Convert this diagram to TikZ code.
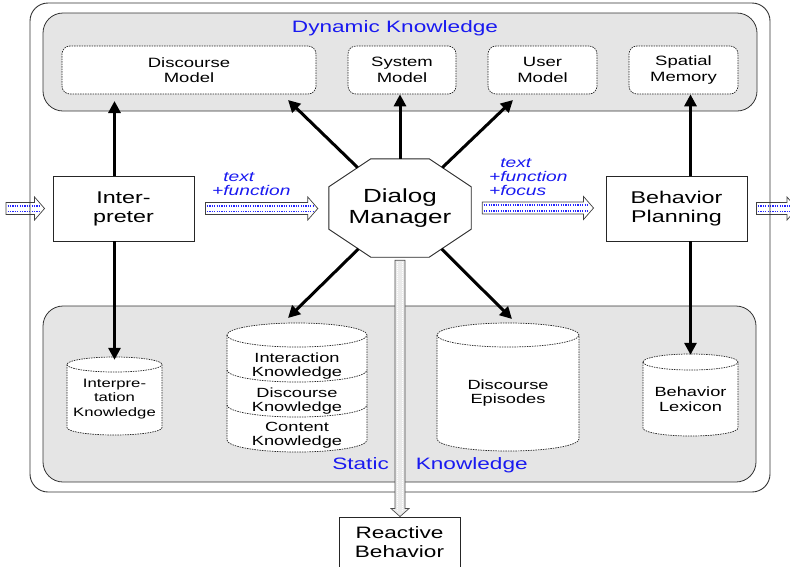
\documentclass[tikz,border=0pt]{standalone}
\usepackage{fontspec}
\setmainfont{Liberation Sans}[FakeStretch=1.37]
\usetikzlibrary{arrows.meta,calc}

\definecolor{panelgray}{gray}{0.9}
\definecolor{labelblue}{RGB}{25,25,240}

\newcommand\sz[2]{\fontsize{#1}{#2}\selectfont}

% horizontal hollow data-flow arrow from #1 to tip #2 (same height)
\newcommand\flowArrowH[2]{%
  \path[flow] let \p1=(#1), \p2=(#2) in
    (\x1,\y1+6pt) -- (\x2-10pt,\y1+6pt) -- (\x2-10pt,\y1+11.5pt) -- (\x2,\y1)
    -- (\x2-10pt,\y1-11.5pt) -- (\x2-10pt,\y1-6pt) -- (\x1,\y1-6pt) -- cycle;
  \path[flowdots] let \p1=(#1), \p2=(#2) in
    (\x1+1.5pt,\y1+2.8pt) -- (\x2-5pt,\y1+2.8pt)
    (\x1+1.5pt,\y1-2.8pt) -- (\x2-5pt,\y1-2.8pt);
}
% vertical hollow arrow from #1 down to tip #2
\newcommand\flowArrowV[2]{%
  \path[flowV] let \p1=(#1), \p2=(#2) in
    (\x1-5pt,\y1) -- (\x1-5pt,\y2+8pt) -- (\x1-9pt,\y2+8pt) -- (\x1,\y2)
    -- (\x1+9pt,\y2+8pt) -- (\x1+5pt,\y2+8pt) -- (\x1+5pt,\y1) -- cycle;
  \path[flowVdots] let \p1=(#1), \p2=(#2) in
    (\x1-2.5pt,\y1-1.5pt) -- (\x1-2.5pt,\y2+5pt)
    (\x1+2.5pt,\y1-1.5pt) -- (\x1+2.5pt,\y2+5pt);
}
% database cylinder: left, right, top, bottom, end radius
\newcommand\storeCyl[5]{%
  \pgfmathsetmacro\cylCx{(#1+#2)/2}%
  \pgfmathsetmacro\cylKx{0.5523*(#2-#1)/2}%
  \pgfmathsetmacro\cylKy{0.5523*#5}%
  \pgfmathsetmacro\cylTop{#3+#5}%
  \pgfmathsetmacro\cylBot{#4-#5}%
  \path[store] (#1,\cylTop) -- (#1,\cylBot)
     .. controls (#1,\cylBot+\cylKy) and (\cylCx-\cylKx,#4) .. (\cylCx,#4)
     .. controls (\cylCx+\cylKx,#4) and (#2,\cylBot+\cylKy) .. (#2,\cylBot)
     -- (#2,\cylTop)
     .. controls (#2,\cylTop-\cylKy) and (\cylCx+\cylKx,#3) .. (\cylCx,#3)
     .. controls (\cylCx-\cylKx,#3) and (#1,\cylTop-\cylKy) .. (#1,\cylTop) -- cycle;
  \cylArc{#1}{#2}{\cylTop}{#5}%
}
% lower half of an end ellipse: left, right, centre height, radius
\newcommand\cylArc[4]{%
  \pgfmathsetmacro\arcCx{(#1+#2)/2}%
  \pgfmathsetmacro\arcKx{0.5523*(#2-#1)/2}%
  \pgfmathsetmacro\arcKy{0.5523*#4}%
  \draw[storeline] (#1,#3) .. controls (#1,#3+\arcKy) and (\arcCx-\arcKx,#3+#4) .. (\arcCx,#3+#4)
     .. controls (\arcCx+\arcKx,#3+#4) and (#2,#3+\arcKy) .. (#2,#3);
}

\tikzset{
  frame/.style={draw=black!80, line width=0.9pt, rounded corners=18pt},
  panel/.style={draw=black!80, fill=panelgray, line width=0.8pt, rounded corners=20pt},
  title/.style={text=labelblue, font=\sz{16.5}{18}, inner sep=0pt},
  note/.style={text=labelblue, font=\sz{14}{14}\itshape, align=left, inner sep=0pt},
  memory/.style={draw=black!85, line width=0.7pt, dash pattern=on 1.5pt off 1pt,
    fill=white, rounded corners=8pt, align=center, font=\sz{13.5}{15.5},
    minimum height=48pt, inner sep=0pt},
  module/.style={draw=black!85, line width=0.9pt, fill=white, align=center,
    inner sep=0pt, font=\sz{17}{19}},
  dmtext/.style={minimum width=142pt, minimum height=98pt, align=center,
    inner sep=0pt, font=\sz{19}{21.5}},
  octo/.style={draw=black!85, line width=0.9pt},
  store/.style={draw=black!85, line width=0.7pt, dash pattern=on 1.5pt off 1pt, fill=white},
  storeline/.style={draw=black!85, line width=0.7pt, dash pattern=on 1.5pt off 1pt},
  storetext/.style={align=center, inner sep=0pt, font=\sz{13.3}{14.5}},
  link/.style={line width=3pt, -{Triangle[length=12pt,width=12pt]}},
  flow/.style={draw=black!75, line width=0.7pt, fill=white},
  flowdots/.style={draw=blue!85, line width=1.6pt, dash pattern=on 1.2pt off 1.2pt},
  flowV/.style={draw=black!70, line width=0.7pt, fill=black!8},
  flowVdots/.style={draw=white, line width=1pt, dash pattern=on 1pt off 1pt},
}

\begin{document}
\begin{tikzpicture}[x=1pt,y=-1pt]
\useasboundingbox (0,0) rectangle (790,566);

% modules (placed first so the outside flows can refer to them)
\node[module, minimum width=141pt, minimum height=65pt] (interp) at (123.5,208.5) {Inter-\\preter};
\node[module, minimum width=141pt, minimum height=65pt] (bplan) at (676.5,208.5) {Behavior\\Planning};

% input and output flows run under the frame
\coordinate (inStart) at (6,208.5);
\coordinate (outEnd) at (797,208.5);
\flowArrowH{inStart}{$(interp.west)+(-8,0)$}
\flowArrowH{$(bplan.east)+(9,0)$}{outEnd}

% outer frame and the two knowledge panels
\draw[frame] (30,3) rectangle (770,492);
\draw[panel] (43,13) rectangle (757,111);
\draw[panel] (43,306) rectangle (756,482);
\node[title] (dynlbl) at (395,28) {Dynamic Knowledge};
\node[title] (statlbl) at (430,465) {Static\hspace{27pt}Knowledge};

% dynamic knowledge
\node[memory, minimum width=254pt] (dmod) at (189,70) {Discourse\\Model};
\node[memory, minimum width=108pt] (smod) at (402,70) {System\\Model};
\node[memory, minimum width=109pt] (umod) at (542.5,70) {User\\Model};
\node[memory, minimum width=109pt] (spm) at (683.5,70) {Spatial\\Memory};

% static knowledge stores
\storeCyl{67}{162}{357}{435}{7.5}
\storeCyl{227}{367}{323}{452}{12}
\cylArc{227}{367}{370}{12}
\cylArc{227}{367}{405}{12}
\storeCyl{437}{579}{323}{451}{12}
\storeCyl{643}{738}{354}{436}{8}

\node[storetext, font=\sz{12.2}{14.3}, minimum width=95pt, minimum height=84pt] (ik) at (114.5,399) {Interpre-\\tation\\Knowledge};
\node[storetext, minimum width=140pt] (intk) at (297,366) {Interaction\\Knowledge};
\node[storetext, minimum width=140pt] (disck) at (297,401) {Discourse\\Knowledge};
\node[storetext, minimum width=140pt] (contk) at (297,435) {Content\\Knowledge};
\node[storetext, minimum width=142pt] (ep) at (508,393) {Discourse\\Episodes};
\node[storetext, minimum width=95pt, minimum height=90pt] (bl) at (690.5,399) {Behavior\\Lexicon};

% dialog manager: octagon outline around its text box
\node[dmtext] (dm) at (400,208) {Dialog\\Manager};
\draw[octo] ($(dm.north west)+(42,0)$) -- ($(dm.north east)+(-42,0)$)
  -- ($(dm.north east)+(0,28)$) -- ($(dm.south east)+(0,-28)$)
  -- ($(dm.south east)+(-42,0)$) -- ($(dm.south west)+(42,0)$)
  -- ($(dm.south west)+(0,-28)$) -- ($(dm.north west)+(0,28)$) -- cycle;
\coordinate (dmUL) at ($(dm.north west)+(28.9,8.8)$);
\coordinate (dmUR) at ($(dm.north east)+(-28.9,8.8)$);
\coordinate (dmLL) at ($(dm.south west)+(29.6,-8.3)$);
\coordinate (dmLR) at ($(dm.south east)+(-29.6,-8.3)$);

% reactive layer
\node[module, minimum width=121pt, minimum height=50pt, font=\sz{16.5}{18.5}] (react) at (399.5,542) {Reactive\\Behavior};

% internal data flows
\flowArrowH{$(interp.east)+(11,0)$}{$(dm.west)+(-11,0)$}
\flowArrowH{$(dm.east)+(11,0)$}{$(bplan.west)+(-12,0)$}
\node[note, anchor=west] (lblA) at (212,184.5) {\phantom{+}text\\+function};
\node[note, anchor=west] (lblB) at (489,177) {\phantom{+}text\\+function\\+focus};

% access links
\coordinate (tipDmodV) at (114.5,101);
\coordinate (tipDmod) at (288,100);
\coordinate (tipUmod) at (513,100);
\coordinate (tipIntk) at (288,318);
\coordinate (tipEp) at (512,319);
\draw[link] (interp.north -| ik.north) -- (tipDmodV);
\draw[link] (interp.south -| ik.north) -- ([yshift=-3pt]ik.north);
\draw[link] (bplan.north -| bl.north) -- (bl.north |- spm.south);
\draw[link] (bplan.south -| bl.north) -- ([yshift=-1pt]bl.north);
\draw[link] (dm.north) -- (dm.north |- smod.south);
\draw[link] (dmUL) -- (tipDmod);
\draw[link] (dmUR) -- (tipUmod);
\draw[link] (dmLL) -- (tipIntk);
\draw[link] (dmLR) -- (tipEp);

% reactive path crosses the static panel
\flowArrowV{$(dm.south)+(0,3)$}{react.north}
\end{tikzpicture}
\end{document}
